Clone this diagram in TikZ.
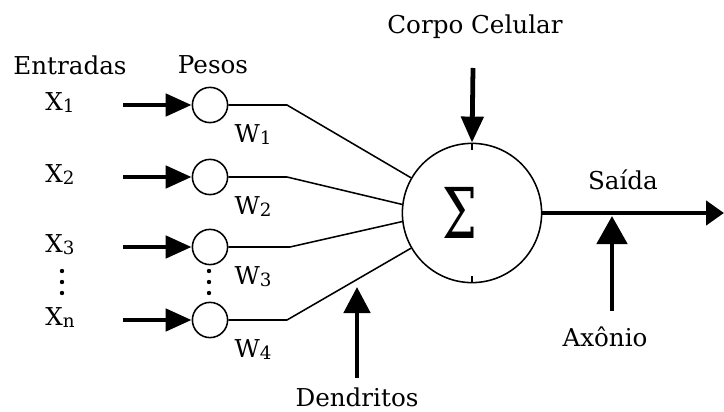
\documentclass[tikz,border=0pt]{standalone}
\usepackage{tikz}
\usepackage{amsmath}
\usepackage{fontspec}
\setmainfont{DejaVu Serif}
\usetikzlibrary{arrows.meta}
\usetikzlibrary{calc}

\tikzset{
  rotulo/.style={font=\fontsize{17.5}{21}\selectfont, inner sep=0pt},
  seta/.style={line width=3.4pt, -{Triangle[length=6.5mm,width=5.5mm]}},
  fio/.style={line width=1.1pt},
  peso/.style={draw, circle, line width=1.1pt, minimum size=0.88cm, inner sep=0pt},
}
\newcommand{\indice}[1]{\raisebox{-0.1ex}{\fontsize{13}{14}\selectfont #1}}

\begin{document}
\begin{tikzpicture}[x=0.025cm,y=-0.025cm]
	\useasboundingbox (0,0) rectangle (724,412);
	\node [rotulo] (entradas) at (70,65) {Entradas};
	\node [rotulo] (pesos) at (213,65) {Pesos};
	\node [rotulo] (corpo) at (475,27) {Corpo Celular};
	\node [rotulo] (saida) at (623,180) {Saída};
	\node [rotulo] (axonio) at (605,337) {Axônio};
	\node [rotulo] (dendritos) at (357,397) {Dendritos};

	\node [draw, circle, line width=1.1pt, minimum size=3.48cm, inner sep=0pt] (soma) at (472,213) {};
	\node [rotulo, xscale=2.0, yscale=2.85] (sigma) at (460,213) {Σ};
	\draw [fio] (soma.north) -- ++(0,7);
	\draw [fio] (soma.south) -- ++(0,-7);

	\foreach \i/\y/\ang/\dx/\sub/\wt in {1/105/150/287/1/1, 2/177/173/287/2/2,
	                                     3/247/187/290/3/3, 4/320/210/287/n/4} {
		\node [rotulo, anchor=base] (x\i) at (60,\y+6) {X\indice{\sub}};
		\node [peso] (p\i) at (210,\y) {};
		\node [rotulo, anchor=base] (w\i) at (253,\y+38) {W\indice{\wt}};
		\coordinate (e\i) at (123,\y);
		\coordinate (d\i) at (\dx,\y);
		\draw [seta] (e\i) -- (p\i.west);
		\draw [fio] (p\i.east) -- (d\i) -- (soma.\ang);
	}
	\foreach \k in {271,282,293} {
		\fill (62,\k) circle (2.2);
		\fill (209,\k) circle (2.2);
	}

	\coordinate (corpo1) at (473,68);
	\draw [seta] (corpo1) -- (soma.north);
	\coordinate (fim) at (724,213);
	\draw [line width=3.2pt, -{Triangle[length=4.5mm,width=6mm]}] (soma.east) -- (fim);
	\coordinate (axonio1) at (612,311);
	\coordinate (axonio2) at (612,216);
	\draw [line width=3.4pt, -{Triangle[length=7mm,width=7.5mm]}] (axonio1) -- (axonio2);
	\coordinate (dendritos1) at (357,378);
	\coordinate (dendritos2) at (357,287);
	\draw [line width=3.4pt, -{Triangle[length=6.5mm,width=6.5mm]}] (dendritos1) -- (dendritos2);
\end{tikzpicture}
\end{document}
